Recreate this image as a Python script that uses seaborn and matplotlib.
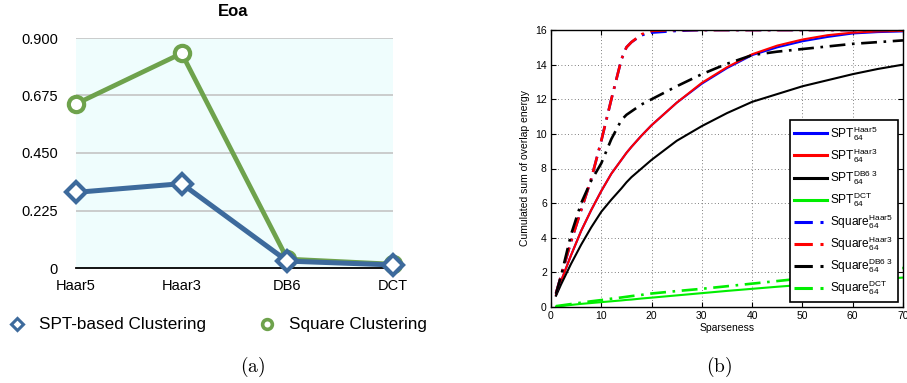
import numpy as np
import pandas as pd
import matplotlib
matplotlib.use('Agg')
import matplotlib.pyplot as plt
from matplotlib.lines import Line2D
import seaborn as sns

# ---- panel (a) data
cats = ['Haar5', 'Haar3', 'DB6', 'DCT']
spt_eoa = [0.296, 0.330, 0.027, 0.012]
square_eoa = [0.642, 0.840, 0.035, 0.015]
eoa_ticks = [0, 0.225, 0.450, 0.675, 0.900]
eoa_ticklabels = ['0', '0.225', '0.450', '0.675', '0.900']

# ---- panel (b) data
sparse = [1, 2, 4, 6, 8, 10, 12, 14, 15, 16, 18, 20, 25, 30, 35, 40, 45, 50, 55, 60, 65, 70]
spt_haar5 = [0.7, 1.5, 3.0, 4.4, 5.6, 6.7, 7.7, 8.5, 8.9, 9.25, 9.9, 10.5, 11.8, 12.9, 13.8, 14.55, 15.0, 15.35, 15.6, 15.8, 15.88, 15.92]
spt_haar3 = [0.7, 1.5, 3.0, 4.4, 5.6, 6.7, 7.7, 8.5, 8.9, 9.25, 9.9, 10.5, 11.8, 12.95, 13.85, 14.6, 15.1, 15.45, 15.7, 15.85, 15.92, 15.95]
spt_db6 = [0.65, 1.3, 2.5, 3.6, 4.6, 5.5, 6.2, 6.85, 7.2, 7.5, 8.0, 8.5, 9.6, 10.45, 11.2, 11.85, 12.3, 12.75, 13.1, 13.45, 13.75, 14.0]
spt_dct = [0.03, 0.06, 0.12, 0.18, 0.23, 0.28, 0.33, 0.38, 0.41, 0.43, 0.49, 0.54, 0.67, 0.8, 0.93, 1.05, 1.17, 1.28, 1.4, 1.5, 1.6, 1.7]
sq_haar5 = [0.8, 1.8, 3.8, 5.6, 7.4, 9.6, 12.0, 14.3, 15.0, 15.3, 15.7, 15.85, 15.95, 16, 16, 16, 16, 16, 16, 16, 16, 16]
sq_haar3 = [0.8, 1.8, 3.8, 5.6, 7.4, 9.6, 12.0, 14.3, 15.0, 15.3, 15.75, 15.95, 16, 16, 16, 16, 16, 16, 16, 16, 16, 16]
sq_db6 = [0.75, 1.8, 4.2, 6.0, 7.3, 8.3, 9.7, 10.8, 11.1, 11.3, 11.7, 12.0, 12.75, 13.45, 14.05, 14.55, 14.75, 14.9, 15.05, 15.2, 15.3, 15.4]
sq_dct = [0.05, 0.09, 0.17, 0.25, 0.33, 0.4, 0.48, 0.55, 0.59, 0.63, 0.7, 0.78, 0.92, 1.05, 1.2, 1.35, 1.5, 1.65, 1.8, 1.95, 2.1, 2.25]

plt.rcParams['font.family'] = ['Liberation Sans', 'DejaVu Sans']
plt.rcParams['mathtext.fontset'] = 'custom'
plt.rcParams['mathtext.rm'] = 'Liberation Sans'
plt.rcParams['mathtext.it'] = 'Liberation Sans:italic'
plt.rcParams['mathtext.bf'] = 'Liberation Sans:bold'

W, H = 907, 383
fig = plt.figure(figsize=(W / 100, H / 100), dpi=100)

def box(x0, y0, x1, y1):
    # pixel box (top-left origin) -> figure fraction rect
    return [x0 / W, 1 - y1 / H, (x1 - x0) / W, (y1 - y0) / H]

# ================= (a) =================
blue_a = '#3d6a9c'
green_a = '#6ea24c'
ax1 = fig.add_axes(box(76, 38, 393, 268))
ax1.set_facecolor('#effdfd')
xpos = np.arange(len(cats))
for yv in eoa_ticks[1:]:
    ax1.axhline(yv, color='#c4c4c4', lw=1.2, zorder=0)
ax1.axhline(0, color='black', lw=1.3, zorder=1, clip_on=False)

sns.lineplot(x=xpos, y=square_eoa, ax=ax1, color=green_a, lw=3.4, marker='o',
             markersize=11, markerfacecolor='white', markeredgecolor=green_a,
             markeredgewidth=3, clip_on=False, zorder=3)
sns.lineplot(x=xpos, y=spt_eoa, ax=ax1, color=blue_a, lw=3.6, marker='D',
             markersize=10, markerfacecolor='white', markeredgecolor=blue_a,
             markeredgewidth=3, clip_on=False, zorder=4)

ax1.set_xlim(0, 3)
ax1.set_ylim(0, 0.9)
ax1.set_xticks(xpos)
ax1.set_xticklabels(cats)
ax1.set_yticks(eoa_ticks)
ax1.set_yticklabels(eoa_ticklabels)
ax1.tick_params(length=0, labelsize=10.5)
ax1.tick_params(axis='y', pad=13)
ax1.tick_params(axis='x', pad=8)
for s in ax1.spines.values():
    s.set_visible(False)
ax1.set_xlabel('')
ax1.set_ylabel('')

fig.text(233 / W, 1 - 12 / H, 'Eoa', ha='center', va='center', fontsize=12, fontweight='bold')

hnd = [Line2D([], [], ls='none', marker='D', ms=6, mfc='white', mec=blue_a, mew=2.2),
       Line2D([], [], ls='none', marker='o', ms=7, mfc='white', mec=green_a, mew=2.6)]
fig.legend(hnd, ['SPT-based Clustering', 'Square Clustering'], loc='center left',
           bbox_to_anchor=(8 / W, 1 - 325 / H), ncol=2, frameon=False, fontsize=12.3,
           handlelength=1.0, handletextpad=0.8, columnspacing=3.1, borderpad=0, borderaxespad=0)

fig.text(253 / W, 1 - 367 / H, r'$\mathrm{(a)}$', ha='center', va='center',
         fontsize=14, math_fontfamily='cm')

# ================= (b) =================
ax2 = fig.add_axes(box(551, 30, 903, 307))
series = [
    (spt_haar5, '#0000ff', '-', r'SPT$^{\rm Haar5}_{64}$'),
    (spt_haar3, '#ff0000', '-', r'SPT$^{\rm Haar3}_{64}$'),
    (spt_db6, '#000000', '-', r'SPT$^{\rm DB6\ 3}_{64}$'),
    (spt_dct, '#00ee00', '-', r'SPT$^{\rm DCT}_{64}$'),
    (sq_haar5, '#0000ff', '-.', r'Square$^{\rm Haar5}_{64}$'),
    (sq_haar3, '#ff0000', '-.', r'Square$^{\rm Haar3}_{64}$'),
    (sq_db6, '#000000', '-.', r'Square$^{\rm DB6\ 3}_{64}$'),
    (sq_dct, '#00ee00', '-.', r'Square$^{\rm DCT}_{64}$'),
]
for vals, col, ls, lab in series:
    lw = 1.5 if ls == '-' else 1.9
    sns.lineplot(x=sparse, y=vals, ax=ax2, color=col, lw=lw, linestyle=ls, label=lab)
for ln in ax2.get_lines():
    if ln.get_linestyle() == '-.':
        ln.set_dashes([6, 2.5, 1, 2.5])

ax2.set_xlim(0, 70)
ax2.set_ylim(0, 16)
ax2.set_xticks(range(0, 71, 10))
ax2.set_yticks(range(0, 17, 2))
ax2.grid(True, color='#555555', ls=(0, (1, 3)), lw=0.6)
ax2.tick_params(direction='in', length=3.5, labelsize=7.5, top=True, right=True, pad=3)
for s in ax2.spines.values():
    s.set_linewidth(1.0)
    s.set_color('black')
ax2.set_xlabel('Sparseness', fontsize=7.5, labelpad=1)
ax2.set_ylabel('Cumulated sum of overlap energy', fontsize=7.5, labelpad=4)

leg = ax2.legend(loc='lower right', fontsize=8.6, frameon=True, fancybox=False,
                 edgecolor='black', framealpha=1, handlelength=2.7, handletextpad=0.3,
                 labelspacing=0.28, borderaxespad=0.45, borderpad=0.35)
leg.get_frame().set_linewidth(1.2)
for h in leg.get_lines():
    h.set_linewidth(2.2)

fig.text(719 / W, 1 - 367 / H, r'$\mathrm{(b)}$', ha='center', va='center',
         fontsize=14, math_fontfamily='cm')

fig.savefig('out.png', dpi=100)
